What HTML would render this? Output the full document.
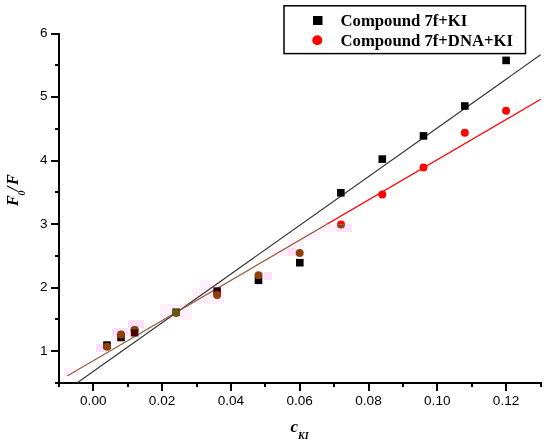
<!DOCTYPE html><html><head><meta charset="utf-8"><style>html,body{margin:0;padding:0;background:#fff;}svg{display:block;will-change:transform;}</style></head><body>
<svg width="550" height="445" viewBox="0 0 550 445">
<defs><clipPath id="top"><rect x="0" y="0" width="550" height="224.20"/></clipPath><clipPath id="clip3"><rect x="0" y="0" width="550" height="329.60"/></clipPath><clipPath id="bot"><rect x="0" y="224.20" width="550" height="445"/></clipPath></defs>
<rect x="64" y="368" width="16" height="8" fill="#fef1fb"/>
<rect x="160" y="304" width="32" height="16" fill="#fef1fb"/>
<rect x="192" y="288" width="16" height="16" fill="#fef1fb"/>
<rect x="200" y="280" width="24" height="24" fill="#fef1fb"/>
<rect x="272" y="248" width="16" height="8" fill="#fef1fb"/>
<rect x="288" y="240" width="16" height="8" fill="#fef1fb"/>
<rect x="304" y="232" width="16" height="8" fill="#fef1fb"/>
<rect x="320" y="224" width="16" height="8" fill="#fef1fb"/>
<rect x="112" y="336" width="8" height="8" fill="#fef1fb"/>
<rect x="128" y="328" width="8" height="8" fill="#fef1fb"/>
<rect x="96" y="344" width="8" height="8" fill="#fcdff8"/>
<rect x="112" y="328" width="16" height="8" fill="#fcdff8"/>
<rect x="128" y="320" width="16" height="8" fill="#fcdff8"/>
<rect x="264" y="272" width="8" height="8" fill="#fcdff8"/>
<rect x="288" y="248" width="8" height="8" fill="#fcdff8"/>
<rect x="336" y="224" width="16" height="8" fill="#fcdff8"/>
<g stroke="#000" stroke-width="2" fill="none" shape-rendering="crispEdges">
<line x1="59" y1="32.5" x2="59" y2="384"/>
<line x1="55" y1="383" x2="541.5" y2="383"/>
<line x1="51" y1="351.10" x2="59" y2="351.10"/>
<line x1="51" y1="287.58" x2="59" y2="287.58"/>
<line x1="51" y1="224.06" x2="59" y2="224.06"/>
<line x1="51" y1="160.54" x2="59" y2="160.54"/>
<line x1="51" y1="97.02" x2="59" y2="97.02"/>
<line x1="51" y1="33.50" x2="59" y2="33.50"/>
<line x1="55" y1="319.34" x2="59" y2="319.34"/>
<line x1="55" y1="255.82" x2="59" y2="255.82"/>
<line x1="55" y1="192.30" x2="59" y2="192.30"/>
<line x1="55" y1="128.78" x2="59" y2="128.78"/>
<line x1="55" y1="65.26" x2="59" y2="65.26"/>
<line x1="93.30" y1="383" x2="93.30" y2="390.5"/>
<line x1="162.10" y1="383" x2="162.10" y2="390.5"/>
<line x1="230.90" y1="383" x2="230.90" y2="390.5"/>
<line x1="299.70" y1="383" x2="299.70" y2="390.5"/>
<line x1="368.50" y1="383" x2="368.50" y2="390.5"/>
<line x1="437.30" y1="383" x2="437.30" y2="390.5"/>
<line x1="506.10" y1="383" x2="506.10" y2="390.5"/>
<line x1="58.90" y1="383" x2="58.90" y2="387"/>
<line x1="127.70" y1="383" x2="127.70" y2="387"/>
<line x1="196.50" y1="383" x2="196.50" y2="387"/>
<line x1="265.30" y1="383" x2="265.30" y2="387"/>
<line x1="334.10" y1="383" x2="334.10" y2="387"/>
<line x1="402.90" y1="383" x2="402.90" y2="387"/>
<line x1="471.70" y1="383" x2="471.70" y2="387"/>
<line x1="540.50" y1="383" x2="540.50" y2="387"/>
</g>
<g font-family="Liberation Sans, sans-serif" font-size="13.6" fill="#000">
<text x="47.5" y="354.55" text-anchor="end">1</text>
<text x="47.5" y="291.03" text-anchor="end">2</text>
<text x="47.5" y="227.51" text-anchor="end">3</text>
<text x="47.5" y="163.99" text-anchor="end">4</text>
<text x="47.5" y="100.47" text-anchor="end">5</text>
<text x="47.5" y="36.95" text-anchor="end">6</text>
<text x="93.30" y="405.2" text-anchor="middle">0.00</text>
<text x="162.10" y="405.2" text-anchor="middle">0.02</text>
<text x="230.90" y="405.2" text-anchor="middle">0.04</text>
<text x="299.70" y="405.2" text-anchor="middle">0.06</text>
<text x="368.50" y="405.2" text-anchor="middle">0.08</text>
<text x="437.30" y="405.2" text-anchor="middle">0.10</text>
<text x="506.10" y="405.2" text-anchor="middle">0.12</text>
</g>
<text x="290.5" y="431.8" font-family="Liberation Serif, serif" font-weight="bold" font-style="italic" font-size="17">c<tspan font-size="10" dy="6.8">KI</tspan></text>
<g transform="translate(17.9,206) rotate(-90)" font-family="Liberation Serif, serif" font-weight="bold" font-style="italic" font-size="16"><text x="0" y="0">F</text><text x="10.4" y="7.1" font-size="10">0</text><text x="14.9" y="0">/</text><text x="21" y="0">F</text></g>
<line x1="76.90" y1="383.00" x2="540.60" y2="54.80" stroke="#333" stroke-width="1.10"/>
<line x1="67.10" y1="376.00" x2="540.70" y2="99.30" stroke="#fe0404" stroke-width="1.30" clip-path="url(#top)"/>
<line x1="67.10" y1="376.00" x2="540.70" y2="99.30" stroke="#966044" stroke-width="1.30" clip-path="url(#bot)"/>
<rect x="103.20" y="341.30" width="7.6" height="7.6" fill="#000"/>
<rect x="117.20" y="333.70" width="7.6" height="7.6" fill="#1a0004"/>
<rect x="172.30" y="308.40" width="7.6" height="7.6" fill="#3a2e08"/>
<rect x="213.30" y="287.30" width="7.6" height="7.6" fill="#2a0008"/>
<rect x="254.70" y="276.50" width="7.6" height="7.6" fill="#000"/>
<rect x="296.00" y="258.90" width="7.6" height="7.6" fill="#000"/>
<rect x="337.00" y="189.00" width="7.6" height="7.6" fill="#000"/>
<rect x="378.50" y="155.30" width="7.6" height="7.6" fill="#000"/>
<rect x="419.70" y="132.10" width="7.6" height="7.6" fill="#000"/>
<rect x="461.00" y="102.20" width="7.6" height="7.6" fill="#000"/>
<rect x="502.30" y="56.60" width="7.6" height="7.6" fill="#000"/>
<circle cx="107.00" cy="346.70" r="4" fill="#fe0404" clip-path="url(#top)"/>
<circle cx="107.00" cy="346.70" r="4" fill="#8f3e0c" clip-path="url(#bot)"/>
<circle cx="121.00" cy="334.60" r="4" fill="#fe0404" clip-path="url(#top)"/>
<circle cx="121.00" cy="334.60" r="4" fill="#8f3e0c" clip-path="url(#bot)"/>
<circle cx="134.60" cy="329.90" r="4" fill="#fe0404" clip-path="url(#top)"/>
<circle cx="134.60" cy="329.90" r="4" fill="#8f3e0c" clip-path="url(#bot)"/>
<circle cx="176.10" cy="312.90" r="4" fill="#fe0404" clip-path="url(#top)"/>
<circle cx="176.10" cy="312.90" r="4" fill="#6f5512" clip-path="url(#bot)"/>
<circle cx="217.10" cy="294.90" r="4" fill="#fe0404" clip-path="url(#top)"/>
<circle cx="217.10" cy="294.90" r="4" fill="#8f3e0c" clip-path="url(#bot)"/>
<circle cx="258.50" cy="275.30" r="4" fill="#fe0404" clip-path="url(#top)"/>
<circle cx="258.50" cy="275.30" r="4" fill="#8f3e0c" clip-path="url(#bot)"/>
<circle cx="299.70" cy="253.00" r="4" fill="#fe0404" clip-path="url(#top)"/>
<circle cx="299.70" cy="253.00" r="4" fill="#8f3e0c" clip-path="url(#bot)"/>
<circle cx="341.00" cy="224.50" r="4" fill="#fe0404" clip-path="url(#top)"/>
<circle cx="341.00" cy="224.50" r="4" fill="#8f3e0c" clip-path="url(#bot)"/>
<circle cx="382.30" cy="194.60" r="4" fill="#fe0404" clip-path="url(#top)"/>
<circle cx="382.30" cy="194.60" r="4" fill="#8f3e0c" clip-path="url(#bot)"/>
<circle cx="423.50" cy="167.40" r="4" fill="#fe0404" clip-path="url(#top)"/>
<circle cx="423.50" cy="167.40" r="4" fill="#8f3e0c" clip-path="url(#bot)"/>
<circle cx="464.80" cy="132.80" r="4" fill="#fe0404" clip-path="url(#top)"/>
<circle cx="464.80" cy="132.80" r="4" fill="#8f3e0c" clip-path="url(#bot)"/>
<circle cx="506.10" cy="110.80" r="4" fill="#fe0404" clip-path="url(#top)"/>
<circle cx="506.10" cy="110.80" r="4" fill="#8f3e0c" clip-path="url(#bot)"/>
<rect x="130.80" y="328.90" width="7.6" height="7.6" fill="#4a0208"/>
<circle cx="134.60" cy="329.90" r="4" fill="#7a4a10" clip-path="url(#clip3)"/>
<rect x="284" y="5.8" width="241.5" height="47.8" fill="#fff" stroke="#000" stroke-width="1.5"/>
<rect x="313" y="16" width="9.5" height="9" fill="#000"/>
<circle cx="317.3" cy="40.3" r="5" fill="#fe0404"/>
<g font-family="Liberation Serif, serif" font-weight="bold" font-size="16.7" fill="#000">
<text x="340.5" y="25.8">Compound 7f+KI</text>
<text x="340.5" y="46.4">Compound 7f+DNA+KI</text>
</g>
</svg></body></html>
